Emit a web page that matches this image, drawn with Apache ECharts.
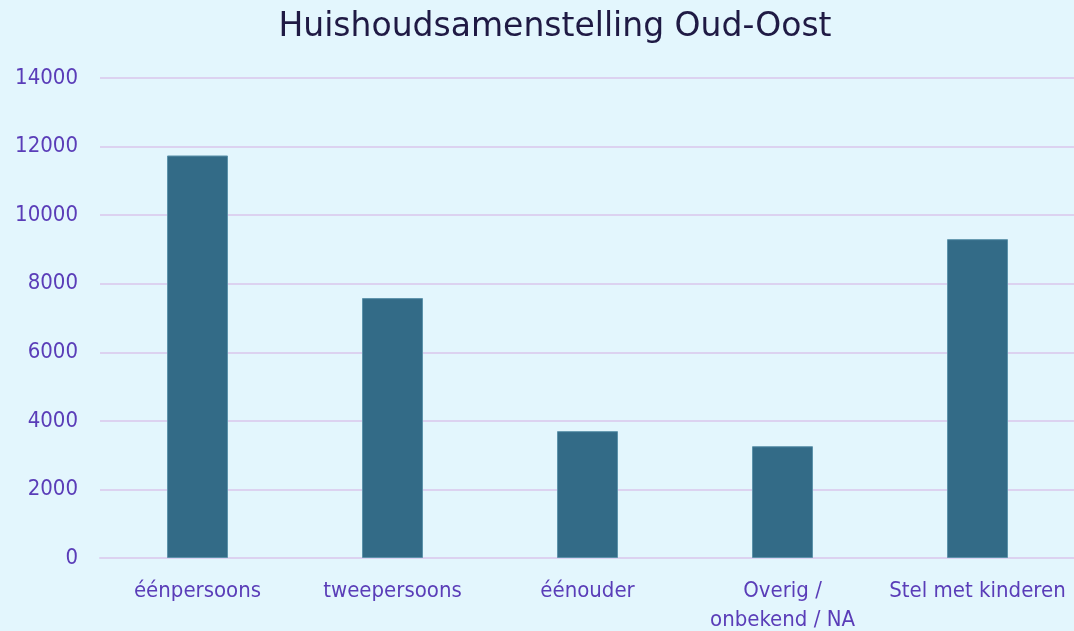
<!DOCTYPE html>
<html>
<head>
<meta charset="utf-8">
<script src="https://cdn.jsdelivr.net/npm/echarts@6/dist/echarts.min.js"></script>
<style>
  html, body { margin: 0; padding: 0; background: #e3f6fd; }
  #chart { width: 1074px; height: 631px; }
</style>
</head>
<body>
<div id="chart"></div>
<script>
var categories = ['éénpersoons', 'tweepersoons', 'éénouder', 'Overig /\nonbekend / NA', 'Stel met kinderen'];
var households = [11740, 7580, 3700, 3260, 9300];

var labelColor = '#5a3db8';
var gridColor = '#dcd2f0';
var labelFont = 'DejaVu Sans Condensed';

var chart = echarts.init(document.getElementById('chart'));
chart.setOption({
  backgroundColor: '#e3f6fd',
  title: {
    text: 'Huishoudsamenstelling Oud-Oost',
    left: 550,
    textAlign: 'center',
    top: 6,
    textStyle: {
      fontFamily: 'DejaVu Sans',
      fontWeight: 'normal',
      fontSize: 33,
      color: '#1f1a44'
    }
  },
  grid: {
    left: 100,
    right: -1,
    top: 78,
    height: 480,
    outerBoundsMode: 'none'
  },
  xAxis: {
    type: 'category',
    data: categories,
    axisTick: { show: false },
    axisLine: { lineStyle: { color: gridColor, width: 2 } },
    axisLabel: {
      interval: 0,
      margin: 19,
      fontFamily: labelFont,
      fontSize: 22,
      lineHeight: 29,
      color: labelColor
    }
  },
  yAxis: {
    type: 'value',
    min: 0,
    max: 14000,
    interval: 2000,
    axisLine: { show: false },
    axisTick: { show: false },
    splitLine: { lineStyle: { color: gridColor, width: 2 } },
    axisLabel: {
      margin: 22,
      fontFamily: labelFont,
      fontSize: 22,
      color: labelColor,
      formatter: function (v) { return String(v); }
    }
  },
  series: [{
    type: 'bar',
    data: households,
    barWidth: 61,
    itemStyle: {
      color: '#336b87',
      borderColor: '#5d93ab',
      borderWidth: 1
    }
  }]
});
</script>
</body>
</html>
